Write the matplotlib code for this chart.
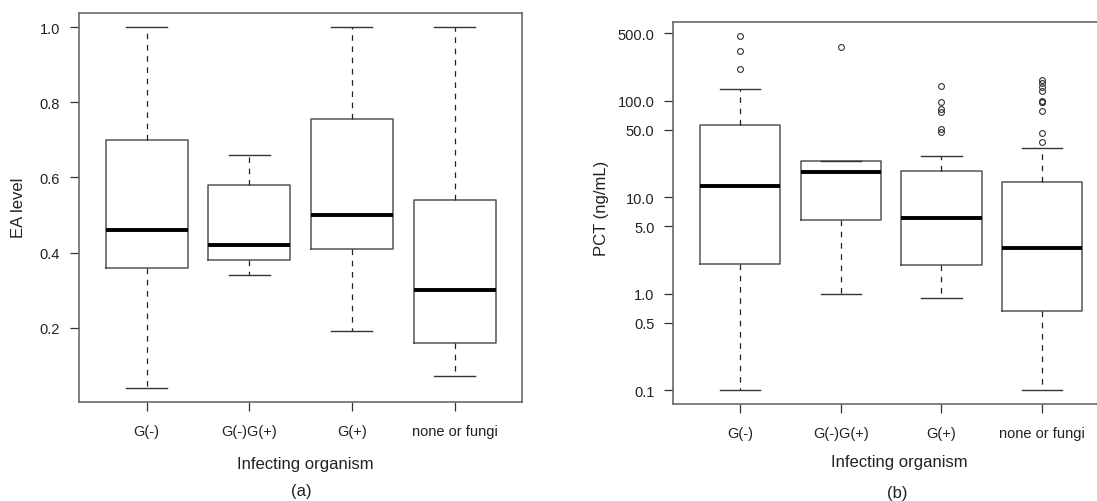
import matplotlib
matplotlib.use("Agg")
import matplotlib.pyplot as plt
import numpy as np

plt.rcParams['font.family'] = ['Liberation Sans', 'DejaVu Sans']

categories = ["G(-)", "G(-)G(+)", "G(+)", "none or fungi"]

# Panel (a): EA level
ea_whislo = [0.04, 0.34, 0.19, 0.07]
ea_q1 = [0.36, 0.38, 0.41, 0.16]
ea_med = [0.46, 0.42, 0.50, 0.30]
ea_q3 = [0.70, 0.58, 0.756, 0.54]
ea_whishi = [1.0, 0.66, 1.0, 1.0]
ea_fliers = [[], [], [], []]
ea_ticks = [0.2, 0.4, 0.6, 0.8, 1.0]
ea_ticklabels = ["0.2", "0.4", "0.6", "0.8", "1.0"]

# Panel (b): PCT (ng/mL), log scale
pct_whislo = [0.1, 1.0, 0.90, 0.1]
pct_q1 = [2.02, 5.82, 1.97, 0.66]
pct_med = [13.0, 18.2, 6.06, 2.96]
pct_q3 = [55.7, 23.8, 18.9, 14.2]
pct_whishi = [132, 23.8, 26.6, 32.4]
pct_fliers = [[214, 328, 470],
              [358],
              [47.5, 50.5, 76.6, 81.6, 97.2, 142],
              [36.9, 46, 78, 96, 98, 100, 125, 138, 152, 164]]
pct_ticks = [0.1, 0.5, 1, 5, 10, 50, 100, 500]
pct_ticklabels = ["0.1", "0.5", "1.0", "5.0", "10.0", "50.0", "100.0", "500.0"]

W, H = 1097, 502
fig = plt.figure(figsize=(W / 100, H / 100), dpi=100)

TXT = "#222222"
FRAME = "#6a6a6a"
BOXC = "#555555"

def px_axes(x0, x1, y0, y1):
    return fig.add_axes([x0 / W, 1 - y1 / H, (x1 - x0) / W, (y1 - y0) / H])

def make_stats(lo, q1, med, q3, hi, fl):
    out = []
    for i in range(len(med)):
        out.append(dict(whislo=lo[i], q1=q1[i], med=med[i], q3=q3[i],
                        whishi=hi[i], fliers=fl[i], label=categories[i]))
    return out

def draw(ax, stats):
    ax.bxp(stats, positions=range(1, len(stats) + 1), widths=0.8,
           showfliers=True,
           boxprops=dict(color=BOXC, linewidth=1.1),
           medianprops=dict(color="black", linewidth=2.8, solid_capstyle="butt"),
           whiskerprops=dict(color="#222222", linewidth=0.9, linestyle=(0, (4.5, 4.5))),
           capprops=dict(color="#333333", linewidth=1.0),
           capwidths=0.4,
           flierprops=dict(marker="o", markerfacecolor="none",
                           markeredgecolor="#333333", markersize=4.2,
                           markeredgewidth=0.8, linestyle="none"))
    for s in ax.spines.values():
        s.set_color(FRAME)
        s.set_linewidth(1.2)
    ax.tick_params(axis="both", direction="out", length=6.5, width=0.9,
                   color="#333333", labelcolor=TXT, labelsize=10.5)
    ax.tick_params(axis="y", pad=7)
    ax.tick_params(axis="x", pad=9)
    ax.set_xticks(range(1, len(categories) + 1))
    ax.set_xticklabels(categories)

# ---- Panel (a)
ax1 = px_axes(78.9, 522.3, 14, 403)
draw(ax1, make_stats(ea_whislo, ea_q1, ea_med, ea_q3, ea_whishi, ea_fliers))
lo, hi = min(ea_whislo), max(ea_whishi)
pad = 0.04 * (hi - lo)
ax1.set_ylim(lo - pad, hi + pad)
ax1.set_xlim(0.34, 4.66)
ax1.set_yticks(ea_ticks)
ax1.set_yticklabels(ea_ticklabels)

# ---- Panel (b)
ax2 = px_axes(673.3, 1108, 22.7, 405.3)
draw(ax2, make_stats(pct_whislo, pct_q1, pct_med, pct_q3, pct_whishi, pct_fliers))
ax2.set_yscale("log")
allv = pct_whislo + pct_whishi + [v for f in pct_fliers for v in f]
llo, lhi = np.log10(min(allv)), np.log10(max(allv))
lpad = 0.04 * (lhi - llo)
ax2.set_ylim(10 ** (llo - lpad), 10 ** (lhi + lpad))
ax2.set_xlim(0.335, 4.655)
ax2.set_yticks(pct_ticks)
ax2.set_yticklabels(pct_ticklabels)
ax2.yaxis.set_minor_locator(matplotlib.ticker.NullLocator())

# ---- Labels
def ftext(x, y, s, **kw):
    fig.text(x / W, 1 - y / H, s, ha="center", va="center", color=TXT, **kw)

ftext(18.3, 208, "EA level", rotation=90, fontsize=12)
ftext(601.5, 208, "PCT (ng/mL)", rotation=90, fontsize=12)
ftext(305, 465, "Infecting organism", fontsize=12)
ftext(899, 463, "Infecting organism", fontsize=12)
ftext(301.7, 492, "(a)", fontsize=12)
ftext(897.7, 494, "(b)", fontsize=12)

fig.savefig("out.png", dpi=100)
